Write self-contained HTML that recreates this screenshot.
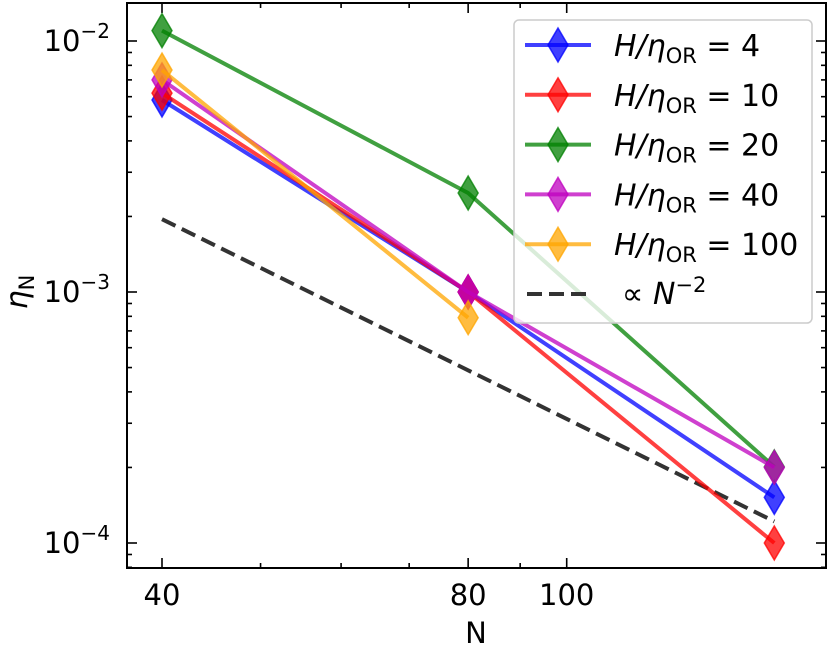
<!DOCTYPE html>
<html><head><meta charset="utf-8"><style>
body{margin:0;background:#fff;}
svg{display:block;font-family:"DejaVu Sans","Liberation Sans",sans-serif;}
</style></head><body>
<svg id="chart" width="830" height="648" viewBox="0 0 830 648"></svg>
<script>
const categoriesN = [40, 80, 160];
const seriesLabels = ["4", "10", "20", "40", "100"];
const seriesColors = ["#0000ff", "#ff0000", "#008000", "#bf00bf", "#ffa500"];
const valuesH4 = [0.00582, 0.00100, 0.000152];
const valuesH10 = [0.0062, 0.00100, 0.000100];
const valuesH20 = [0.0110, 0.00248, 0.000201];
const valuesH40 = [0.0070, 0.00100, 0.000200];
const valuesH100 = [0.00766, 0.00079];
const refCoef = 3.12;
const refN = [40, 160];
const xTickLabels = [40, 80, 100];
const yTickExps = [-2, -3, -4];

const NS = "http://www.w3.org/2000/svg";
const svg = document.getElementById("chart");
const L = 127, R = 826, T = 3, B = 568;
function xs(n){ return 162 + (Math.log10(n) - Math.log10(40)) * 1017; }
function ys(v){ return 292 - (Math.log10(v) + 3) * 251; }
function mk(tag, attrs, parent){
  const e = document.createElementNS(NS, tag);
  for (const k in attrs) e.setAttribute(k, attrs[k]);
  (parent || svg).appendChild(e);
  return e;
}
// ticks
const ticks = mk("g", {});


for (let d = -5; d <= -1; d++) {
  for (let m = 1; m <= 9; m++) {
    const v = m * Math.pow(10, d), y = ys(v);
    if (y < T || y > B) continue;
    const len = m === 1 ? 10 : 5;
    mk("line", {x1: L, x2: L + len, y1: y, y2: y, stroke: "#000", "stroke-width": 1.6}, ticks);
    mk("line", {x1: R, x2: R - len, y1: y, y2: y, stroke: "#000", "stroke-width": 1.6}, ticks);
  }
}
[40, 50, 60, 70, 80, 90, 100].forEach(n => {
  const x = xs(n), len = (n === 40 || n === 80 || n === 100) ? 10 : 5;
  mk("line", {x1: x, x2: x, y1: B, y2: B - len, stroke: "#000", "stroke-width": 1.6}, ticks);
  mk("line", {x1: x, x2: x, y1: T, y2: T + len, stroke: "#000", "stroke-width": 1.6}, ticks);
});
// tick labels
xTickLabels.forEach(n => {
  const t = mk("text", {x: xs(n), y: 605, "font-size": 29, "text-anchor": "middle"});
  
  
  t.textContent = n;
});
yTickExps.forEach(e => {
  const t = mk("text", {x: 110, y: ys(Math.pow(10, e)) + 10, "font-size": 29, "text-anchor": "end"});
  
  
  t.textContent = "10";
  const s = mk("tspan", {"font-size": 20, dy: -13}, t);
  s.textContent = "\u2212" + Math.abs(e);
});
// reference line
const refLine = mk("line", {x1: xs(refN[0]), y1: ys(refCoef / (refN[0] * refN[0])), x2: xs(refN[1]), y2: ys(refCoef / (refN[1] * refN[1])), stroke: "#333", "stroke-width": 4, "stroke-dasharray": "15,7"});


// series
const allSeries = [valuesH4, valuesH10, valuesH20, valuesH40, valuesH100];
function diamond(x, y, c, parent){
  return mk("path", {d: `M${x},${y-17} L${x+10},${y} L${x},${y+17} L${x-10},${y} Z`, fill: c, "fill-opacity": 0.75, stroke: c, "stroke-opacity": 0.75, "stroke-width": 1.5}, parent);
}
allSeries.forEach((vals, i) => {
  const g = mk("g", {});
  
  
  const pts = vals.map((v, j) => xs(categoriesN[j]) + "," + ys(v)).join(" ");
  mk("polyline", {points: pts, fill: "none", stroke: seriesColors[i], "stroke-opacity": 0.75, "stroke-width": 4}, g);
  vals.forEach((v, j) => {
    const p = diamond(xs(categoriesN[j]), ys(v), seriesColors[i], g);
    
    
  });
});
// legend
const lg = mk("g", {});


mk("rect", {x: 514, y: 20, width: 298, height: 303, rx: 5, fill: "#fff", "fill-opacity": 0.8, stroke: "#ccc", "stroke-width": 1.5}, lg);
seriesLabels.forEach((lab, i) => {
  const y = 45 + i * 49.8;
  const e = mk("g", {}, lg);
  
  
  mk("line", {x1: 525, x2: 591, y1: y, y2: y, stroke: seriesColors[i], "stroke-opacity": 0.75, "stroke-width": 4}, e);
  diamond(558, y, seriesColors[i], e);
  const t = mk("text", {x: 614, y: y + 11, "font-size": 30}, e);
  const a = mk("tspan", {"font-style": "italic"}, t); a.textContent = "H/\u03b7";
  const b = mk("tspan", {"font-size": 21, dy: 7}, t); b.textContent = "OR";
  const c = mk("tspan", {dy: -7}, t); c.textContent = " = " + lab;
});
const re = mk("g", {}, lg);


mk("line", {x1: 527, x2: 589, y1: 294, y2: 294, stroke: "#333", "stroke-width": 4, "stroke-dasharray": "15,7"}, re);
const rt = mk("text", {x: 622, y: 304, "font-size": 30}, re);
const r1 = mk("tspan", {}, rt); r1.textContent = "\u221d ";
const r2 = mk("tspan", {"font-style": "italic"}, rt); r2.textContent = "N";
const r3 = mk("tspan", {"font-size": 21, dy: -12}, rt); r3.textContent = "\u22122";
// frame
const fr = mk("rect", {x: L, y: T, width: R - L, height: B - T, fill: "none", stroke: "#000", "stroke-width": 2});


// axis titles
const xt = mk("text", {x: 476, y: 643, "font-size": 29, "text-anchor": "middle"});


xt.textContent = "N";
const yt = mk("text", {x: 0, y: 0, "font-size": 30, "text-anchor": "middle", transform: "translate(27,292) rotate(-90)"});


const y1 = mk("tspan", {"font-style": "italic"}, yt); y1.textContent = "\u03b7";
const y2 = mk("tspan", {"font-size": 21, dy: 7}, yt); y2.textContent = "N";
</script>
</body></html>
